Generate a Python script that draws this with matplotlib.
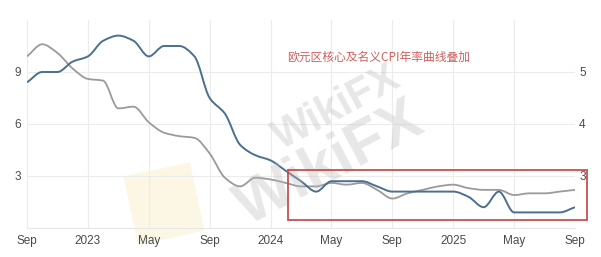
import numpy as np
import matplotlib.pyplot as plt
from matplotlib.path import Path
from matplotlib.patches import PathPatch, Rectangle
from matplotlib.transforms import IdentityTransform

# monthly, Sep 2022 .. Sep 2025
headline = [9.9, 10.6, 10.1, 9.2,
            8.6, 8.5, 6.9, 7.0, 6.1, 5.5, 5.3, 5.2, 4.3, 2.9, 2.4, 2.9,
            2.8, 2.6, 2.4, 2.4, 2.6, 2.5, 2.6, 2.2, 1.7, 2.0, 2.2, 2.4,
            2.5, 2.3, 2.2, 2.2, 1.9, 2.0, 2.0, 2.1, 2.2]
core = [4.8, 5.0, 5.0, 5.2,
        5.3, 5.6, 5.7, 5.6, 5.3, 5.5, 5.5, 5.3, 4.5, 4.2, 3.6, 3.4,
        3.3, 3.1, 2.9, 2.7, 2.9, 2.9, 2.9, 2.8, 2.7, 2.7, 2.7, 2.7,
        2.7, 2.6, 2.4, 2.7, 2.3, 2.3, 2.3, 2.3, 2.4]
tick_labels = ['Sep', '2023', 'May', 'Sep', '2024', 'May', 'Sep', '2025', 'May', 'Sep']
title = '欧元区核心及名义CPI年率曲线叠加'


def smooth(x, y):
    # monotone cubic drawn as bezier segments
    x = np.asarray(x, float)
    y = np.asarray(y, float)
    d = np.diff(y) / np.diff(x)
    m = np.zeros(len(x))
    m[0], m[-1] = d[0], d[-1]
    for i in range(1, len(x) - 1):
        if d[i - 1] * d[i] > 0:
            m[i] = 2 / (1 / d[i - 1] + 1 / d[i])
    verts = [(x[0], y[0])]
    codes = [Path.MOVETO]
    for i in range(len(x) - 1):
        h = x[i + 1] - x[i]
        verts += [(x[i] + h / 3, y[i] + m[i] * h / 3),
                  (x[i + 1] - h / 3, y[i + 1] - m[i + 1] * h / 3),
                  (x[i + 1], y[i + 1])]
        codes += [Path.CURVE4] * 3
    return Path(verts, codes)


plt.rcParams['font.family'] = ['Liberation Sans', 'DejaVu Sans']

fig = plt.figure(figsize=(6.01, 2.57), dpi=100)
ax = fig.add_axes([27 / 601, 29 / 257, 548 / 601, 208 / 257])
ax2 = ax.twinx()
ax.patch.set_alpha(0)

months = np.arange(len(headline))
ax.add_patch(PathPatch(smooth(months, headline), fill=False, ec='#9a9a9a', lw=1.3, zorder=3))
ax2.add_patch(PathPatch(smooth(months, core), fill=False, ec='#4b6f8e', lw=1.4, zorder=3))

ax.set_xlim(0, 36)
ax.set_ylim(0, 12)
ax2.set_ylim(2, 6)
ax.set_xticks(np.arange(0, 37, 4))
ax.set_xticklabels(tick_labels)
ax.set_yticks([3, 6, 9])
ax2.set_yticks([3, 4, 5])

ax.grid(True, color='#ececec', lw=0.8)
ax.set_axisbelow(True)
for a in (ax, ax2):
    for s in a.spines.values():
        s.set_visible(False)
    a.tick_params(length=0, labelsize=8.5, colors='#4a4a4a')
ax.spines['bottom'].set_visible(True)
ax.spines['bottom'].set_color('#e6e6e6')
ax.tick_params(axis='x', pad=5)
ax.tick_params(axis='y', pad=4)
ax2.tick_params(axis='y', pad=3)

# watermark
fig.patches.append(Rectangle((138, 12), 68, 70, angle=12, transform=IdentityTransform(),
                             fc='#fbf3d2', ec='none', alpha=0.6, zorder=-1))
fig.text(0.56, 0.58, 'WikiFX', fontsize=30, fontweight='bold', color='#bbbbbb', alpha=0.35,
         rotation=28, ha='center', va='center')
fig.text(0.55, 0.36, 'WikiFX', fontsize=44, fontweight='bold', color='#bbbbbb', alpha=0.35,
         rotation=28, ha='center', va='center')

fig.text(287 / 601, 1 - 57 / 257, title, fontsize=8.5, color='#d0605e',
         family=['Noto Sans CJK SC', 'DejaVu Sans'], va='center', ha='left')

fig.patches.append(Rectangle((288 / 601, 37 / 257), 299 / 601, 50 / 257,
                             transform=fig.transFigure, fill=False, ec='#c8504e', lw=1.3, zorder=5))

plt.savefig('out.png', dpi=100)
